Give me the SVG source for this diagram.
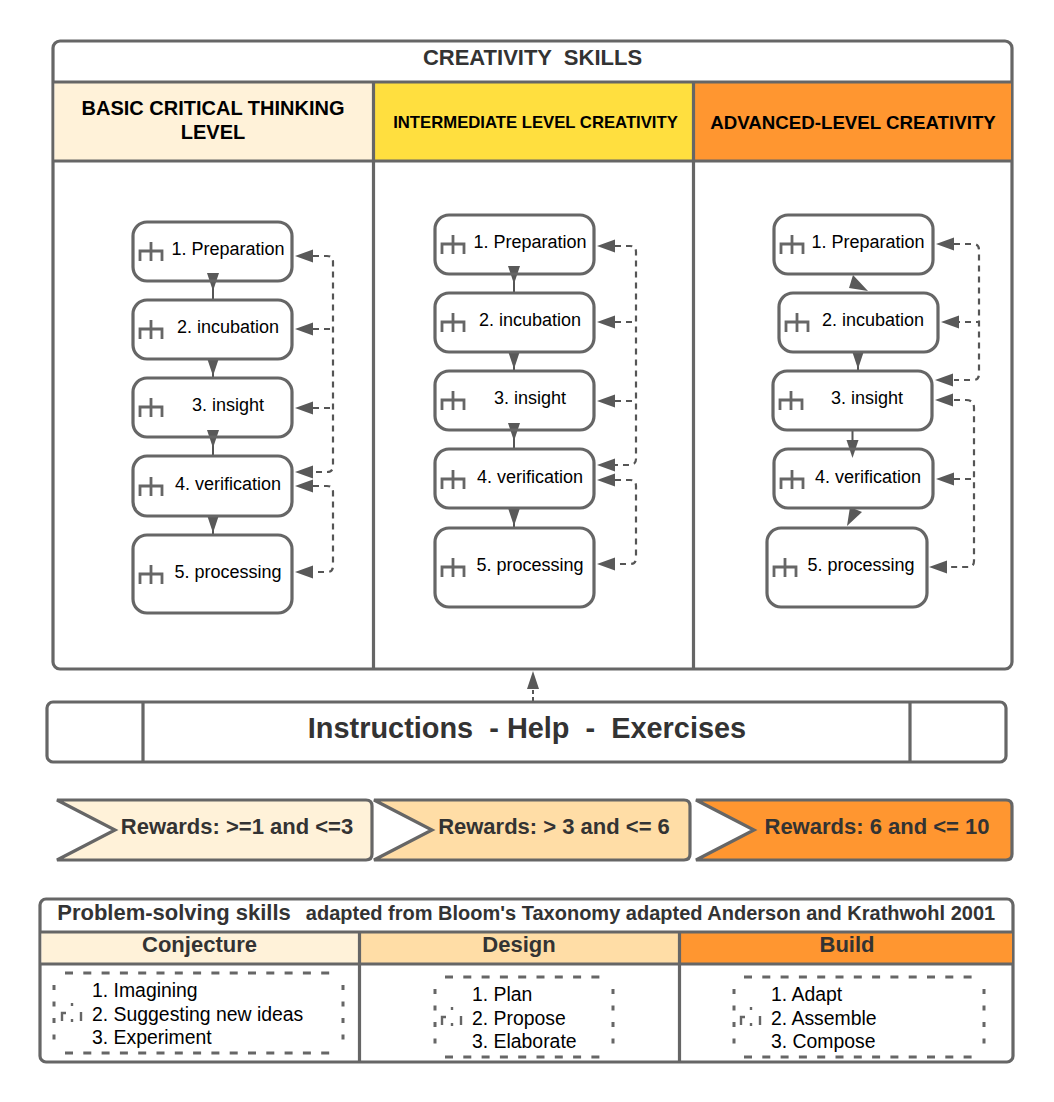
<svg xmlns="http://www.w3.org/2000/svg" width="1054" height="1102" viewBox="0 0 1054 1102">
<style>
text{font-family:"Liberation Sans",Arial,sans-serif;text-anchor:middle}
.s{stroke:#666;stroke-width:3.200;fill:none}
.n{stroke:#666;stroke-width:3.200;fill:#fff}
.b{stroke:#666;stroke-width:3.200;fill:none}
.t{font-size:18px;fill:#000}
.h{font-weight:bold;fill:#000}
.d{font-weight:bold;fill:#333}
.li{font-size:19.400px;fill:#000;text-anchor:start}
.ic{stroke:#666;stroke-width:2.800;fill:none}
.c{stroke:#555;stroke-width:2;fill:none}
.da{stroke:#555;stroke-width:2.200;fill:none;stroke-dasharray:6 5}
.a{fill:#595959;stroke:none}
.db{stroke:#666;stroke-width:3;fill:none;stroke-dasharray:8 10.300}
.dv{stroke:#666;stroke-width:3;fill:none;stroke-dasharray:5 11.500}
.di{stroke:#666;stroke-width:2.400;fill:none}
</style>
<defs>
<path id="icon" class="ic" d="M-11 9V-1H11V9M0 -10V9"/>
<path id="ah-l" class="a" d="M0 0L18 -6.500V6.500Z"/>
<path id="ah-d" class="a" d="M0 0L-6 -18H6Z"/>
<path id="dot-icon" class="di" d="M0 8V0H4M10 -10V-7M10 6V9M19 -1V8"/>
</defs>
<g id="frame">
<rect class="n" x="53" y="41" width="959" height="628" rx="7"/>
<path d="M54.500 82H373V161H54.500Z" fill="#fff2d9"/>
<rect x="373" y="82" width="320" height="79" fill="#ffdf3f"/>
<rect x="693" y="82" width="318" height="79" fill="#ff9630"/>
<path class="s" d="M53 82H1012M53 161H1012M373.500 82V669M693.500 82V669"/>
<text class="d" x="532.500" y="65" font-size="22" xml:space="preserve">CREATIVITY  SKILLS</text>
<text class="h" x="213" y="115" font-size="20">BASIC CRITICAL THINKING</text>
<text class="h" x="213" y="139" font-size="20">LEVEL</text>
<text class="h" x="535.500" y="128" font-size="16.700">INTERMEDIATE LEVEL CREATIVITY</text>
<text class="h" x="853" y="129" font-size="18.700">ADVANCED-LEVEL CREATIVITY</text>
</g>
<g id="connectors">
<path class="c" d="M213 281V300M213 359V378M213 437V456M213 516V535"/>
<use href="#ah-d" x="213" y="291"/>
<use href="#ah-d" x="213" y="376"/>
<use href="#ah-d" x="213" y="448"/>
<use href="#ah-d" x="213" y="533"/>
<path class="da" d="M313 256H327Q333 256 333 262V466Q333 472 327 472H313M313 329H333M313 408H333M313 486H327Q333 486 333 492V566Q333 572 327 572H313"/>
<use href="#ah-l" x="295" y="256"/><use href="#ah-l" x="295" y="329"/><use href="#ah-l" x="295" y="408"/><use href="#ah-l" x="295" y="472"/><use href="#ah-l" x="295" y="486"/><use href="#ah-l" x="295" y="572"/>
<path class="c" d="M514 274V293M514 352V371M514 430V449M514 508V528"/>
<use href="#ah-d" x="514" y="284"/>
<use href="#ah-d" x="514" y="369"/>
<use href="#ah-d" x="514" y="441"/>
<use href="#ah-d" x="514" y="526"/>
<path class="da" d="M615 246H630Q636 246 636 252V459Q636 465 630 465H615M615 322H636M615 401H636M615 480H630Q636 480 636 486V558Q636 564 630 564H615"/>
<use href="#ah-l" x="597" y="246"/><use href="#ah-l" x="597" y="322"/><use href="#ah-l" x="597" y="401"/><use href="#ah-l" x="597" y="465"/><use href="#ah-l" x="597" y="480"/><use href="#ah-l" x="597" y="564"/>
<path class="c" d="M858 352V371M852.500 430V449"/>
<path class="a" d="M853 275L849 288L868 291Z"/>
<use href="#ah-d" x="858" y="369"/>
<use href="#ah-d" x="852.500" y="458"/>
<path class="a" d="M850 507L862 512L847 526Z"/>
<path class="da" d="M954 244H973Q979 244 979 250V374Q979 380 973 380H954M954 322H979M954 400H966Q974 400 974 408V561Q974 567 968 567H947M954 479H974"/>
<use href="#ah-l" x="936" y="244"/><use href="#ah-l" x="941" y="322"/><use href="#ah-l" x="935" y="380"/><use href="#ah-l" x="935" y="400"/><use href="#ah-l" x="936" y="479"/><use href="#ah-l" x="929" y="567"/>
<path class="c" d="M533 701V688" stroke-dasharray="4 3"/>
<path class="a" d="M533 671L539 689H527Z"/>
</g>
<g id="n1-1"><rect class="b" x="133" y="222" width="159" height="59" rx="14"/><use href="#icon" x="151" y="252"/><text class="t" x="228" y="254.500">1. Preparation</text></g>
<g id="n1-2"><rect class="b" x="133" y="300" width="159" height="59" rx="14"/><use href="#icon" x="151" y="330"/><text class="t" x="228" y="332.500">2. incubation</text></g>
<g id="n1-3"><rect class="b" x="133" y="378" width="159" height="59" rx="14"/><use href="#icon" x="151" y="408"/><text class="t" x="228" y="410.500">3. insight</text></g>
<g id="n1-4"><rect class="b" x="133" y="456" width="159" height="60" rx="14"/><use href="#icon" x="151" y="487"/><text class="t" x="228" y="489.500">4. verification</text></g>
<g id="n1-5"><rect class="b" x="133" y="535" width="159" height="78" rx="14"/><use href="#icon" x="151" y="575"/><text class="t" x="228" y="577.500">5. processing</text></g>
<g id="n2-1"><rect class="b" x="435" y="215" width="159" height="59" rx="14"/><use href="#icon" x="453" y="245"/><text class="t" x="530" y="247.500">1. Preparation</text></g>
<g id="n2-2"><rect class="b" x="435" y="293" width="159" height="59" rx="14"/><use href="#icon" x="453" y="323"/><text class="t" x="530" y="325.500">2. incubation</text></g>
<g id="n2-3"><rect class="b" x="435" y="371" width="159" height="59" rx="14"/><use href="#icon" x="453" y="401"/><text class="t" x="530" y="403.500">3. insight</text></g>
<g id="n2-4"><rect class="b" x="435" y="449" width="159" height="59" rx="14"/><use href="#icon" x="453" y="480"/><text class="t" x="530" y="482.500">4. verification</text></g>
<g id="n2-5"><rect class="b" x="435" y="528" width="159" height="79" rx="14"/><use href="#icon" x="453" y="568"/><text class="t" x="530" y="570.500">5. processing</text></g>
<g id="n3-1"><rect class="b" x="774" y="215" width="159" height="59" rx="14"/><use href="#icon" x="792" y="245"/><text class="t" x="868" y="247.500">1. Preparation</text></g>
<g id="n3-2"><rect class="b" x="779" y="293" width="159" height="59" rx="14"/><use href="#icon" x="797" y="323"/><text class="t" x="873" y="325.500">2. incubation</text></g>
<g id="n3-3"><rect class="b" x="773" y="371" width="159" height="59" rx="14"/><use href="#icon" x="791" y="401"/><text class="t" x="867" y="403.500">3. insight</text></g>
<g id="n3-4"><rect class="b" x="774" y="449" width="159" height="59" rx="14"/><use href="#icon" x="792" y="480"/><text class="t" x="868" y="482.500">4. verification</text></g>
<g id="n3-5"><rect class="b" x="767" y="528" width="160" height="79" rx="14"/><use href="#icon" x="785" y="568"/><text class="t" x="861" y="570.500">5. processing</text></g>
<g id="instructions">
<rect class="n" x="47" y="702" width="959" height="60" rx="6"/>
<path class="s" d="M143 702V762M910 702V762"/>
<text class="d" x="527" y="738" font-size="28.900" xml:space="preserve">Instructions  - Help  -  Exercises</text>
</g>
<g id="reward1"><path class="s" style="fill:#fff2d9" d="M57 800H366Q372 800 372 806V854Q372 860 366 860H57L115 830Z"/><text class="d" x="237" y="834" font-size="22">Rewards: &gt;=1 and &lt;=3</text></g>
<g id="reward2"><path class="s" style="fill:#ffdda6" d="M374 800H684Q690 800 690 806V854Q690 860 684 860H374L432 830Z"/><text class="d" x="554" y="834" font-size="22">Rewards: &gt; 3 and &lt;= 6</text></g>
<g id="reward3"><path class="s" style="fill:#ff9630" d="M696 800H1006Q1012 800 1012 806V854Q1012 860 1006 860H696L754 830Z"/><text class="d" x="877" y="834" font-size="22">Rewards: 6 and &lt;= 10</text></g>
<g id="problem">
<rect class="n" x="40" y="899" width="973" height="163" rx="6"/>
<rect x="41.500" y="932" width="318" height="32" fill="#fff2d9"/>
<rect x="360" y="932" width="320" height="32" fill="#ffdda6"/>
<rect x="680" y="932" width="332" height="32" fill="#ff9630"/>
<path class="s" d="M40 932H1013M40 964H1013M359.500 932V1062M679.500 932V1062"/>
<text class="d" x="174" y="920" font-size="22">Problem-solving skills</text>
<text class="d" x="650.500" y="920" font-size="20">adapted from Bloom's Taxonomy adapted Anderson and Krathwohl 2001</text>
<text class="d" x="199.500" y="952" font-size="22">Conjecture</text>
<text class="d" x="519" y="952" font-size="22">Design</text>
<text class="d" x="847" y="952" font-size="22">Build</text>
</g>
<g id="list1"><path class="db" d="M65 973H334M65 1053H334"/><path class="dv" d="M54 985V1042M343 985V1042"/><use href="#dot-icon" x="62" y="1013"/><text class="li" x="92" y="996.500">1. Imagining</text><text class="li" x="92" y="1020.500">2. Suggesting new ideas</text><text class="li" x="92" y="1043.500">3. Experiment</text></g>
<g id="list2"><path class="db" d="M445 977H604M445 1057H604"/><path class="dv" d="M435 989V1046M613 989V1046"/><use href="#dot-icon" x="442" y="1017"/><text class="li" x="472" y="1000.500">1. Plan</text><text class="li" x="472" y="1024.500">2. Propose</text><text class="li" x="472" y="1047.500">3. Elaborate</text></g>
<g id="list3"><path class="db" d="M744 977H974M744 1057H974"/><path class="dv" d="M734 989V1046M984 989V1046"/><use href="#dot-icon" x="741" y="1017"/><text class="li" x="771" y="1000.500">1. Adapt</text><text class="li" x="771" y="1024.500">2. Assemble</text><text class="li" x="771" y="1047.500">3. Compose</text></g>
</svg>
